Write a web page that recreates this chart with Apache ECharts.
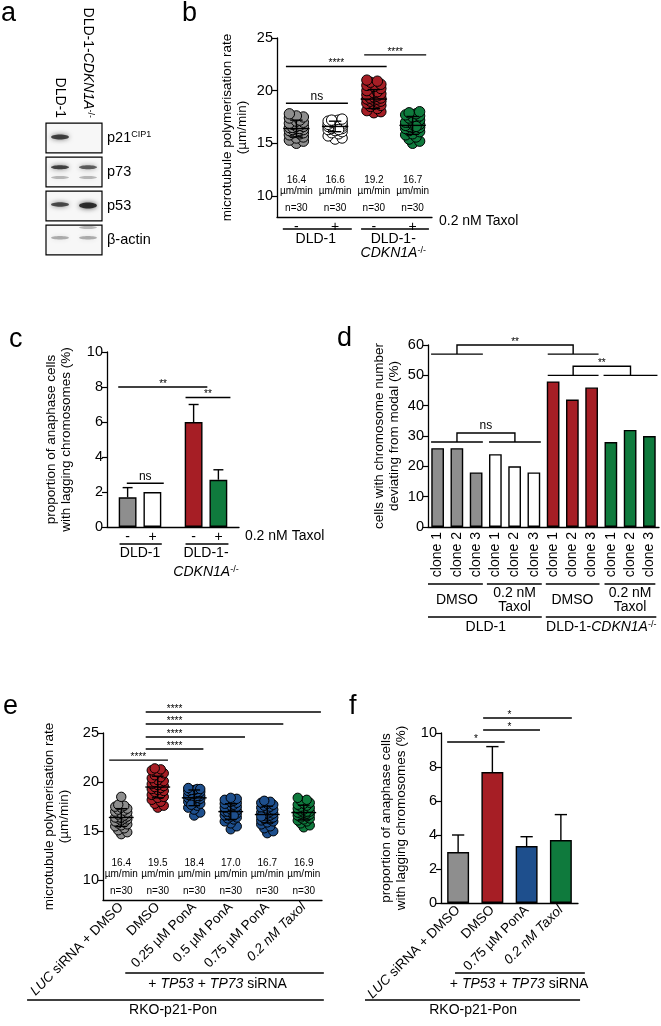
<!DOCTYPE html>
<html><head><meta charset="utf-8">
<script src="https://cdn.jsdelivr.net/npm/echarts@6.0.0/dist/echarts.min.js"></script>
<style>html,body{margin:0;padding:0;background:#fff;}#chart{width:661px;height:1026px;}</style>
</head><body><div id="chart"></div>
<script>
// ================= DATA =================
// panel a: western blot
const blotLanes = ['DLD-1', 'DLD-1-CDKN1A-/-'];
const blotProteins = ['p21^CIP1', 'p73', 'p53', 'β-actin'];
// [lane, protein row, band position in box (0 top..1 bottom), intensity, thickness]
const blotBands = [
  [0, 0, 0.47, 0.85, 5],
  [0, 1, 0.34, 0.85, 4], [1, 1, 0.34, 0.7, 4], [0, 1, 0.69, 0.3, 3], [1, 1, 0.69, 0.3, 3],
  [0, 2, 0.45, 0.8, 4.5], [1, 2, 0.48, 0.95, 6],
  [0, 3, 0.42, 0.35, 3.5], [1, 3, 0.42, 0.35, 3.5], [1, 3, 0.08, 0.3, 3]
];

// panel b: microtubule polymerisation rate (µm/min)
const bCategories = ['-', '+', '-', '+'];
const bGroupLabels = ['DLD-1', 'DLD-1-CDKN1A-/-'];
const bGray  = [15.0,15.2,15.3,15.5,15.6,15.8,15.9,16.0,16.0,16.1,16.2,16.2,16.3,16.3,16.4,16.4,16.5,16.5,16.6,16.6,16.7,16.8,16.9,17.0,17.1,17.2,17.4,17.5,17.6,17.8];
const bWhite = [15.4,15.5,15.7,15.9,16.0,16.1,16.2,16.3,16.4,16.4,16.5,16.5,16.6,16.6,16.6,16.7,16.7,16.7,16.8,16.8,16.9,16.9,17.0,17.0,17.1,17.1,17.2,17.2,17.3,16.3];
const bRed   = [17.9,18.0,18.1,18.3,18.5,18.6,18.7,18.8,18.9,19.0,19.0,19.1,19.2,19.2,19.3,19.3,19.4,19.5,19.6,19.7,19.8,19.9,20.0,20.2,20.4,20.5,20.6,20.8,20.9,21.0];
const bGreen = [15.0,15.2,15.4,15.6,15.8,15.9,16.1,16.2,16.3,16.4,16.5,16.5,16.6,16.7,16.8,16.8,16.9,17.0,17.0,17.1,17.2,17.3,17.4,17.5,17.6,17.7,17.8,17.9,18.0,16.6];
const bMeans = [16.4, 16.6, 19.2, 16.7];
const bSD = [0.8, 0.5, 0.9, 0.85];
const bN = [30, 30, 30, 30];
const bSig = [[-0.27, 1.33, 18.8, 'ns', 0.53], [-0.27, 2.33, 22.3, '****', 1.03], [1.75, 3.35, 23.4, '****', 2.55]];

// panel c: lagging chromosomes (%)
const cCategories = ['DLD-1', 'DLD-1-CDKN1A-/-'];
const cDMSO = [1.7, 6.0];
const cDMSOErr = [0.55, 1.0];
const cTaxol = [2.0, 2.7];
const cTaxolErr = [0, 0.57];
const cSig = [[-0.33, 1.02, 8.0, '**', 0.35], [0.69, 1.37, 7.4, '**', 1.03], [-0.2, 0.36, 2.5, 'ns', 0.08]];

// panel d: cells deviating from modal (%)
const dCategories = ['clone 1','clone 2','clone 3','clone 1','clone 2','clone 3','clone 1','clone 2','clone 3','clone 1','clone 2','clone 3'];
const dValues = [26, 26, 18, 24, 20, 18, 48, 42, 46, 28, 32, 30];
const dTreatments = ['DMSO', '0.2 nM\nTaxol', 'DMSO', '0.2 nM\nTaxol'];
// brackets: [left from, left to, right from, right to, low, high, label]
const dSig = [[-0.34, 2.35, 5.72, 8.36, 57, 60, '**'], [5.72, 8.36, 8.62, 11.42, 50, 53, '**'], [-0.34, 2.35, 2.67, 5.36, 28, 31, 'ns']];

// panel e
const eCategories = ['LUC siRNA + DMSO', 'DMSO', '0.25 µM PonA', '0.5 µM PonA', '0.75 µM PonA', '0.2 nM Taxol'];
const eGray  = [14.7,14.9,15.1,15.3,15.5,15.6,15.7,15.8,15.9,16.0,16.1,16.2,16.3,16.3,16.4,16.4,16.5,16.6,16.7,16.8,16.9,17.0,17.1,17.2,17.3,17.4,17.5,17.6,17.7,18.5];
const eRed   = [17.4,17.6,17.8,18.0,18.2,18.4,18.5,18.7,18.8,19.0,19.1,19.2,19.3,19.4,19.5,19.6,19.7,19.8,19.9,20.0,20.1,20.2,20.4,20.5,20.7,20.9,21.0,21.2,21.3,21.4];
const eBlue1 = [16.6,16.9,17.2,17.4,17.6,17.8,17.9,18.0,18.1,18.2,18.3,18.3,18.4,18.4,18.5,18.5,18.6,18.6,18.7,18.8,18.9,19.0,19.0,19.1,19.2,19.2,19.3,19.3,19.4,17.7];
const eBlue2 = [15.2,15.5,15.8,16.0,16.2,16.3,16.4,16.5,16.6,16.7,16.8,16.9,16.9,17.0,17.0,17.1,17.2,17.3,17.4,17.5,17.6,17.7,17.8,17.9,18.0,18.1,18.2,18.3,18.4,16.6];
const eBlue3 = [14.8,15.0,15.3,15.5,15.7,15.9,16.0,16.1,16.2,16.3,16.4,16.5,16.6,16.7,16.8,16.8,16.9,17.0,17.1,17.2,17.3,17.4,17.5,17.6,17.7,17.8,17.9,18.0,18.1,16.5];
const eGreen = [15.4,15.6,15.8,16.0,16.1,16.2,16.3,16.4,16.5,16.6,16.7,16.7,16.8,16.8,16.9,16.9,17.0,17.0,17.1,17.2,17.3,17.4,17.5,17.6,17.7,17.8,17.9,18.1,18.2,18.4];
const eMeans = [16.4, 19.5, 18.4, 17.0, 16.7, 16.9];
const eSD = [0.9, 1.1, 0.8, 0.8, 0.85, 0.75];
const eN = [30, 30, 30, 30, 30, 30];
const eSig = [[0.67, 5.47, 27.14, '****', 1.46], [0.67, 4.44, 25.92, '****', 1.46], [0.67, 3.39, 24.6, '****', 1.46], [0.67, 2.25, 23.37, '****', 1.46], [-0.33, 1.28, 22.24, '****', 0.47]];

// panel f
const fCategories = ['LUC siRNA + DMSO', 'DMSO', '0.75 µM PonA', '0.2 nM Taxol'];
const fValues = [3.0, 7.7, 3.35, 3.7];
const fErr = [1.0, 1.5, 0.55, 1.5];
const fSig = [[-0.32, 1.36, 9.47, '*', 0.52], [0.73, 2.39, 10.18, '*', 1.5], [0.73, 3.32, 10.88, '*', 1.5]];

// ================= STYLE =================
const FONT = "'Liberation Sans', Arial, sans-serif";
const GRAY = '#8e8e8e', WHITE = '#ffffff', RED = '#a61e25', GREEN = '#0f7a3d', BLUE = '#1e4f8d';
const bColors = [GRAY, WHITE, RED, GREEN];
const cColors = [[GRAY, RED], [WHITE, GREEN]];
const dColors = [GRAY, WHITE, RED, GREEN];
const eColors = [GRAY, RED, BLUE, BLUE, BLUE, GREEN];
const fColors = [GRAY, RED, BLUE, GREEN];

function richSet(size) {
  return {
    i: { fontStyle: 'italic', fontSize: size, fontFamily: FONT, color: '#000' },
    s: { fontSize: Math.round(size * 0.64), fontFamily: FONT, color: '#000', verticalAlign: 'top' }
  };
}
function richify(v) {
  return v.replace('CDKN1A-/-', '{i|CDKN1A}{s|-/-}').replace('LUC', '{i|LUC}')
          .replace('TP53', '{i|TP53}').replace('TP73', '{i|TP73}');
}
function richifyTreat(v) {
  return richify(v).replace('0.2 nM Taxol', '{i|0.2 nM Taxol}');
}

function catAxis(gi, data, extra) {
  const ax = {
    gridIndex: gi, type: 'category', data: data,
    axisLine: { lineStyle: { color: '#000', width: 1.3 } },
    axisTick: { alignWithLabel: true, length: 4, lineStyle: { color: '#000', width: 1.2 } },
    axisLabel: { color: '#000', fontFamily: FONT, fontSize: 14, margin: 3, interval: 0, rich: richSet(14) },
    splitLine: { show: false }
  };
  return Object.assign(ax, extra || {});
}
function valAxis(gi, min, max, interval, ticks, name, gap) {
  const ax = {
    gridIndex: gi, type: 'value', min: min, max: max,
    axisLine: { show: true, lineStyle: { color: '#000', width: 1.3 } },
    axisTick: { show: true, length: 5, lineStyle: { color: '#000', width: 1.2 } },
    axisLabel: { color: '#000', fontFamily: FONT, fontSize: 14.5, margin: 4 },
    splitLine: { show: false },
    name: name, nameLocation: 'middle', nameGap: gap, nameRotate: 90,
    nameTextStyle: { color: '#000', fontFamily: FONT, fontSize: 13.5, lineHeight: 15 }
  };
  if (interval) ax.interval = interval;
  if (ticks) { ax.axisLabel.customValues = ticks; ax.axisTick.customValues = ticks; }
  return ax;
}

// deterministic beeswarm layout (pixel offsets)
function swarm(vals, ppu, step, minDist, maxOff) {
  const order = vals.map((v, i) => i).sort((a, b) => vals[a] - vals[b]);
  const placed = [], offs = new Array(vals.length);
  const nSteps = Math.floor(maxOff / step + 1e-9);
  for (const i of order) {
    const y = vals[i] * ppu;
    let best = 0, bestScore = -1;
    for (let k = 0; k <= 2 * nSteps; k++) {
      const o = (k % 2 ? 1 : -1) * Math.ceil(k / 2) * step;
      let md = Infinity;
      for (const p of placed) { const d = Math.hypot(p[0] - o, p[1] - y); if (d < md) md = d; }
      if (md >= minDist) { best = o; break; }
      if (md > bestScore) { bestScore = md; best = o; }
    }
    placed.push([best, y]); offs[i] = best;
  }
  return offs;
}

function swarmSeries(ai, groups, ppu, r, colors, step, maxOff) {
  const data = [];
  groups.forEach((vals, g) => {
    const offs = swarm(vals, ppu, step, r * 1.05, maxOff);
    vals.forEach((v, k) => data.push([g, v, offs[k]]));
  });
  return {
    type: 'custom', xAxisIndex: ai, yAxisIndex: ai, z: 3, silent: true, data: data,
    renderItem(params, api) {
      const g = api.value(0);
      const p = api.coord([g, api.value(1)]);
      return { type: 'circle', shape: { cx: p[0] + api.value(2), cy: p[1], r: r },
               style: { fill: colors[g], stroke: '#000', lineWidth: 1 } };
    }
  };
}

function meanSDSeries(ai, means, sds) {
  return {
    type: 'custom', xAxisIndex: ai, yAxisIndex: ai, z: 4, silent: true,
    data: means.map((m, g) => [g, m, sds[g]]),
    renderItem(params, api) {
      const g = api.value(0), m = api.value(1), s = api.value(2);
      const band = api.size([1, 0])[0];
      const c = api.coord([g, m]), hi = api.coord([g, m + s]), lo = api.coord([g, m - s]);
      const mw = band * 0.34, cw = band * 0.16;
      const st = { stroke: '#000', lineWidth: 1.4 };
      return { type: 'group', children: [
        { type: 'line', shape: { x1: c[0] - mw, y1: c[1], x2: c[0] + mw, y2: c[1] }, style: st },
        { type: 'line', shape: { x1: c[0], y1: hi[1], x2: c[0], y2: lo[1] }, style: st },
        { type: 'line', shape: { x1: c[0] - cw, y1: hi[1], x2: c[0] + cw, y2: hi[1] }, style: st },
        { type: 'line', shape: { x1: c[0] - cw, y1: lo[1], x2: c[0] + cw, y2: lo[1] }, style: st }
      ] };
    }
  };
}

// annotation items: x in category units, y in data units or pixel offset below the x axis
const L = (x0, x1, y) => ({ k: 'line', x0, x1, y, px: false });
const LP = (x0, x1, y) => ({ k: 'line', x0, x1, y, px: true });
const T = (x, y, text, o) => Object.assign({ k: 'text', x, y, text, px: false }, o || {});
const TP = (x, y, text, o) => Object.assign({ k: 'text', x, y, text, px: true }, o || {});
function sigItems(sig) {
  const out = [];
  sig.forEach(s => {
    out.push(L(s[0], s[1], s[2]));
    out.push(T(s[4], s[2], s[3], { va: 'bottom', size: s[3] === 'ns' ? 12 : 10, dy: s[3] === 'ns' ? -1 : 2 }));
  });
  return out;
}
function bracketItems(sig) {
  const out = [];
  sig.forEach(s => {
    const lm = (s[0] + s[1]) / 2, rm = (s[2] + s[3]) / 2;
    out.push(L(s[0], s[1], s[4]));
    out.push(L(s[2], s[3], s[4]));
    out.push({ k: 'poly', pts: [[lm, s[4]], [lm, s[5]], [rm, s[5]], [rm, s[4]]] });
    out.push(T((lm + rm) / 2, s[5], s[6], { va: 'bottom', size: s[6] === 'ns' ? 12 : 10, dy: s[6] === 'ns' ? -1 : 2 }));
  });
  return out;
}
function annotSeries(ai, yMin, items) {
  return {
    type: 'custom', xAxisIndex: ai, yAxisIndex: ai, clip: false, silent: true, z: 10,
    data: items.map(() => [0, yMin]),
    renderItem(params, api) {
      const it = items[params.dataIndex];
      const base = api.coord([0, yMin]);
      const band = api.size([1, 0])[0];
      const X = f => base[0] + f * band;
      const Y = (v, px) => px ? base[1] + v : api.coord([0, v])[1];
      if (it.k === 'line') {
        const y = Y(it.y, it.px);
        return { type: 'line', shape: { x1: X(it.x0), y1: y, x2: X(it.x1), y2: y }, style: { stroke: '#000', lineWidth: 1.4 } };
      }
      if (it.k === 'poly') {
        return { type: 'polyline', shape: { points: it.pts.map(p => [X(p[0]), Y(p[1], false)]) }, style: { stroke: '#000', fill: null, lineWidth: 1.4 } };
      }
      const size = it.size || 14;
      return { type: 'text', style: {
        text: richify(it.text), x: X(it.x), y: Y(it.y, it.px) + (it.dy || 0),
        align: it.align || 'center', verticalAlign: it.va || 'middle',
        fill: '#000', fontFamily: it.font || FONT, fontSize: size, lineHeight: it.lh || size, rich: richSet(size) } };
    }
  };
}

// ---- panel a series ----
const blotBoxSeries = {
  type: 'custom', xAxisIndex: 0, yAxisIndex: 0, silent: true, z: 2,
  data: blotProteins.map((p, i) => [0, i]),
  renderItem(params, api) {
    const row = api.value(1);
    const c = api.coord([0, row]);
    const bw = api.size([1, 1]);
    const h = bw[1] * 0.87;
    return { type: 'rect', shape: { x: c[0] - bw[0] / 2, y: c[1] - h / 2, width: bw[0] * 2, height: h },
             style: { fill: '#f7f7f7', stroke: '#000', lineWidth: 1.2 } };
  }
};
const blotBandSeries = {
  type: 'custom', xAxisIndex: 0, yAxisIndex: 0, silent: true, z: 3,
  data: blotBands,
  renderItem(params, api) {
    const lane = api.value(0), row = api.value(1), pos = api.value(2), inten = api.value(3), th = api.value(4);
    const c = api.coord([lane, row]);
    const bw = api.size([1, 1]);
    const h = bw[1] * 0.87;
    const y = c[1] - h / 2 + pos * h;
    const col = 'rgba(25,25,25,' + (inten * 0.9) + ')';
    return { type: 'ellipse', shape: { cx: c[0], cy: y, rx: bw[0] * 0.32, ry: th / 2 },
             style: { fill: col, shadowBlur: 5, shadowColor: col } };
  }
};

// ---- bar error bars ----
function barErrSeries(ai, items, bwFrac, gapFrac) {
  return {
    type: 'custom', xAxisIndex: ai, yAxisIndex: ai, silent: true, z: 4,
    data: items,
    renderItem(params, api) {
      const cat = api.value(0), v = api.value(1), e = api.value(2), s = api.value(3);
      if (!e) return null;
      const band = api.size([1, 0])[0];
      const bw = band * bwFrac;
      const off = s < 0 ? 0 : (s === 0 ? -1 : 1) * (bw + bw * gapFrac) / 2;
      const b = api.coord([cat, v]), t = api.coord([cat, v + e]);
      const x = b[0] + off, cw = bw * 0.28;
      const st = { stroke: '#000', lineWidth: 1.4 };
      return { type: 'group', children: [
        { type: 'line', shape: { x1: x, y1: b[1], x2: x, y2: t[1] }, style: st },
        { type: 'line', shape: { x1: x - cw, y1: t[1], x2: x + cw, y2: t[1] }, style: st }
      ] };
    }
  };
}

// ---- annotations per panel ----
const bItems = sigItems(bSig).concat(
  bMeans.map((m, i) => T(i, 11.5, m.toFixed(1), { size: 10 })),
  bMeans.map((m, i) => T(i, 10.45, 'µm/min', { size: 10 })),
  bN.map((n, i) => T(i, 8.8, 'n=' + n, { size: 10 })),
  [LP(-0.35, 1.43, 12), LP(1.67, 3.42, 12),
   TP(0.5, 22, bGroupLabels[0]), TP(2.5, 22, 'DLD-1-'), TP(2.5, 36, 'CDKN1A-/-'),
   TP(3.68, 4, '0.2 nM Taxol', { align: 'left' })]
);
const cItems = sigItems(cSig).concat([
  LP(-0.31, 0.33, 17), LP(0.69, 1.34, 17),
  TP(0, 26, cCategories[0]), TP(1, 26, 'DLD-1-'), TP(1, 45, 'CDKN1A-/-'),
  TP(1.59, 9, '0.2 nM Taxol', { align: 'left' })
]);
const dItems = bracketItems(dSig).concat([
  LP(-0.5, 2.35, 57), LP(2.56, 5.41, 57), LP(5.62, 8.41, 57), LP(8.67, 11.31, 57),
  TP(1, 73, dTreatments[0], { lh: 14 }), TP(4, 73, dTreatments[1], { lh: 14 }),
  TP(7, 73, dTreatments[2], { lh: 14 }), TP(10, 73, dTreatments[3], { lh: 14 }),
  LP(-0.5, 5.41, 90), LP(5.62, 11.36, 90),
  TP(2.5, 100, 'DLD-1'), TP(8.5, 100, 'DLD-1-CDKN1A-/-')
]);
const eItems = sigItems(eSig).concat(
  eMeans.map((m, i) => T(i, 11.7, m.toFixed(1), { size: 10 })),
  eMeans.map((m, i) => T(i, 10.6, 'µm/min', { size: 10 })),
  eN.map((n, i) => T(i, 8.9, 'n=' + n, { size: 10 })),
  [LP(0.11, 5.55, 73), TP(2.64, 84, '+ TP53 + TP73 siRNA'),
   LP(-2.58, 5.55, 100), TP(1.42, 110, 'RKO-p21-Pon')]
);
const fItems = sigItems(fSig).concat([
  LP(-0.09, 3.7, 70), TP(1.78, 81, '+ TP53 + TP73 siRNA'),
  LP(-2.72, 3.56, 97), TP(0.44, 107, 'RKO-p21-Pon')
]);

const letterStyle = { fontSize: 27, fontWeight: 'normal', fontFamily: FONT, color: '#000' };
const letters = [['a', 1, 0], ['b', 182, 0], ['c', 9, 326], ['d', 337, 325], ['e', 3, 693], ['f', 349, 693]];

const option = {
  animation: false,
  backgroundColor: '#fff',
  textStyle: { fontFamily: FONT },
  title: letters.map(l => ({ text: l[0], left: l[1], top: l[2], padding: 0, textStyle: letterStyle })),
  grid: [
    { left: 46, top: 121, width: 56, height: 136 },   // a
    { left: 277, top: 38, width: 155, height: 179 },  // b
    { left: 107, top: 352, width: 132, height: 175 }, // c
    { left: 428, top: 345, width: 231, height: 182 }, // d
    { left: 103, top: 733, width: 219, height: 167 }, // e
    { left: 441, top: 733, width: 137, height: 170 }  // f
  ],
  xAxis: [
    { gridIndex: 0, type: 'category', data: blotLanes, position: 'top',
      axisLine: { show: false }, axisTick: { show: false }, splitLine: { show: false },
      axisLabel: { rotate: 90, margin: 3, color: '#000', fontFamily: FONT, fontSize: 14, interval: 0,
                   formatter: v => richify(v), rich: richSet(14) } },
    catAxis(1, bCategories, {}),
    catAxis(2, cCategories, { axisLabel: { color: '#000', fontFamily: FONT, fontSize: 14, margin: 3, interval: 0,
        formatter: () => '{m|-}{m|+}', rich: { m: { width: 25, align: 'center', fontSize: 14, fontFamily: FONT, color: '#000' } } } }),
    catAxis(3, dCategories, { axisLabel: { color: '#000', fontFamily: FONT, fontSize: 14, margin: 5, interval: 0, rotate: 90 } }),
    catAxis(4, eCategories, { axisLabel: { color: '#000', fontFamily: FONT, fontSize: 13.5, margin: 5, interval: 0, rotate: 45,
        formatter: v => richifyTreat(v), rich: richSet(13.5) } }),
    catAxis(5, fCategories, { axisLabel: { color: '#000', fontFamily: FONT, fontSize: 13.5, margin: 5, interval: 0, rotate: 45,
        formatter: v => richifyTreat(v), rich: richSet(13.5) } })
  ],
  yAxis: [
    { gridIndex: 0, type: 'category', data: blotProteins, inverse: true, position: 'right',
      axisLine: { show: false }, axisTick: { show: false }, splitLine: { show: false },
      axisLabel: { margin: 5, color: '#000', fontFamily: FONT, fontSize: 14.5,
                   formatter: v => { const p = v.split('^'); return p[1] ? p[0] + '{s|' + p[1] + '}' : p[0]; },
                   rich: richSet(14.5) } },
    valAxis(1, 8, 25, null, [10, 15, 20, 25], 'microtubule polymerisation rate\n(µm/min)', 27),
    valAxis(2, 0, 10, 2, null, 'proportion of anaphase cells\nwith lagging chromosomes (%)', 33),
    valAxis(3, 0, 60, 10, null, 'cells with chromosome number\ndeviating from modal (%)', 26),
    valAxis(4, 8, 25, null, [10, 15, 20, 25], 'microtubule polymerisation rate\n(µm/min)', 31),
    valAxis(5, 0, 10, 2, null, 'proportion of anaphase cells\nwith lagging chromosomes (%)', 32)
  ],
  series: [
    blotBoxSeries, blotBandSeries,
    // b
    swarmSeries(1, [bGray, bWhite, bRed, bGreen], 179 / 17, 5.2, bColors, 3.5, 7),
    meanSDSeries(1, bMeans, bSD),
    annotSeries(1, 8, bItems),
    // c
    { type: 'bar', xAxisIndex: 2, yAxisIndex: 2, barWidth: '27%', barGap: '39%', z: 2,
      data: cDMSO.map((v, i) => ({ value: v, itemStyle: { color: cColors[0][i] } })),
      itemStyle: { borderColor: '#000', borderWidth: 1.4 } },
    { type: 'bar', xAxisIndex: 2, yAxisIndex: 2, barWidth: '27%', barGap: '39%', z: 2,
      data: cTaxol.map((v, i) => ({ value: v, itemStyle: { color: cColors[1][i] } })),
      itemStyle: { borderColor: '#000', borderWidth: 1.4 } },
    barErrSeries(2, cDMSO.map((v, i) => [i, v, cDMSOErr[i], 0]).concat(cTaxol.map((v, i) => [i, v, cTaxolErr[i], 1])), 0.27, 0.39),
    annotSeries(2, 0, cItems),
    // d
    { type: 'bar', xAxisIndex: 3, yAxisIndex: 3, barWidth: '66%', z: 2,
      data: dValues.map((v, i) => ({ value: v, itemStyle: { color: dColors[Math.floor(i / 3)] } })),
      itemStyle: { borderColor: '#000', borderWidth: 1.4 } },
    annotSeries(3, 0, dItems),
    // e
    swarmSeries(4, [eGray, eRed, eBlue1, eBlue2, eBlue3, eGreen], 167 / 17, 4.7, eColors, 3, 6),
    meanSDSeries(4, eMeans, eSD),
    annotSeries(4, 8, eItems),
    // f
    { type: 'bar', xAxisIndex: 5, yAxisIndex: 5, barWidth: '64%', z: 2,
      data: fValues.map((v, i) => ({ value: v, itemStyle: { color: fColors[i] } })),
      itemStyle: { borderColor: '#000', borderWidth: 1.4 } },
    barErrSeries(5, fValues.map((v, i) => [i, v, fErr[i], -1]), 0.64, 0),
    annotSeries(5, 0, fItems)
  ]
};

const chart = echarts.init(document.getElementById('chart'), null, { renderer: 'canvas' });
chart.setOption(option);
</script>
</body></html>
